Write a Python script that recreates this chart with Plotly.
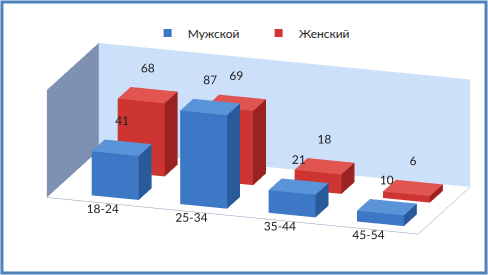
import plotly.graph_objects as go

categories = ["18-24", "25-34", "35-44", "45-54"]
male = [41, 87, 21, 10]
female = [68, 69, 18, 6]
series_names = ["Мужской", "Женский"]

W, D = 0.53, 0.5

def boxes(values, row, front, top, side):
    xs, ys, zs, I, J, K, fc = [], [], [], [], [], [], []
    tris = [(0,1,2,"b"),(0,2,3,"b"),(4,5,6,"t"),(4,6,7,"t"),(0,1,5,"f"),(0,5,4,"f"),
            (1,2,6,"s"),(1,6,5,"s"),(2,3,7,"f"),(2,7,6,"f"),(3,0,4,"s"),(3,4,7,"s")]
    cmap = {"b": side, "t": top, "f": front, "s": side}
    for ci, v in enumerate(values):
        n = len(xs)
        x0, x1 = ci - W/2, ci + W/2
        y0, y1 = row - D/2, row + D/2
        for (a, b, c) in [(x0,y0,0),(x1,y0,0),(x1,y1,0),(x0,y1,0),(x0,y0,v),(x1,y0,v),(x1,y1,v),(x0,y1,v)]:
            xs.append(a); ys.append(b); zs.append(c)
        for (i, j, k, f) in tris:
            I.append(n+i); J.append(n+j); K.append(n+k); fc.append(cmap[f])
    return go.Mesh3d(x=xs, y=ys, z=zs, i=I, j=J, k=K, facecolor=fc, flatshading=True,
                     lighting=dict(ambient=1, diffuse=0, specular=0, roughness=1, fresnel=0),
                     showlegend=False, hoverinfo="skip")

fig = go.Figure()
fig.add_trace(boxes(female, 1, "#cc3531", "#e05550", "#9a2220"))
fig.add_trace(boxes(male, 0, "#3c78c6", "#5b93d9", "#2a5a9a"))

for vals, row in [(male, 0), (female, 1)]:
    fig.add_trace(go.Scatter3d(x=list(range(len(categories))), y=[row]*len(vals),
                               z=[v + 10 for v in vals], mode="text",
                               text=[str(v) for v in vals],
                               textfont=dict(family="Lato, Liberation Sans", size=12, color="#222"),
                               showlegend=False, hoverinfo="skip"))

for name, col in zip(series_names, ["#3c78c6", "#cc3531"]):
    fig.add_trace(go.Scatter3d(x=[None], y=[None], z=[None], mode="markers", name=name,
                               marker=dict(symbol="square", size=8, color=col)))

axis_common = dict(title="", showgrid=False, zeroline=False, showspikes=False)
fig.update_layout(
    width=488, height=275, margin=dict(l=0, r=0, t=0, b=0),
    paper_bgcolor="white",
    font=dict(family="Lato, Liberation Sans", size=12, color="#222"),
    legend=dict(orientation="h", x=0.53, xanchor="center", y=0.88, yanchor="middle",
                font=dict(size=12), entrywidth=66, entrywidthmode="pixels"),
    scene=dict(
        domain=dict(x=[0.06, 1.0], y=[0.066, 0.926]),
        xaxis=dict(**axis_common, range=[-0.7, 3.5], tickvals=[0,1,2,3], ticktext=categories,
                   tickangle=0,
                   showbackground=True, backgroundcolor="#7f91b2", showline=True, linecolor="#8a9bb8",
                   tickfont=dict(size=12)),
        yaxis=dict(**axis_common, range=[-0.5, 1.5], showticklabels=False,
                   showbackground=True, backgroundcolor="#cde0fa", showline=True, linecolor="#8a9bb8"),
        zaxis=dict(**axis_common, range=[0, 100], showticklabels=False,
                   showbackground=True, backgroundcolor="white", showline=False),
        aspectmode="manual", aspectratio=dict(x=3.3, y=1.4, z=0.95),
        camera=dict(eye=dict(x=0.62, y=-1.88, z=0.62), center=dict(x=0, y=0, z=0),
                    projection=dict(type="orthographic")),
    ),
    shapes=[dict(type="rect", xref="paper", yref="paper", x0=0.004, y0=0.007, x1=0.996, y1=0.993,
                 line=dict(color="#4f81bd", width=3))],
)

fig.write_html("out.html")
